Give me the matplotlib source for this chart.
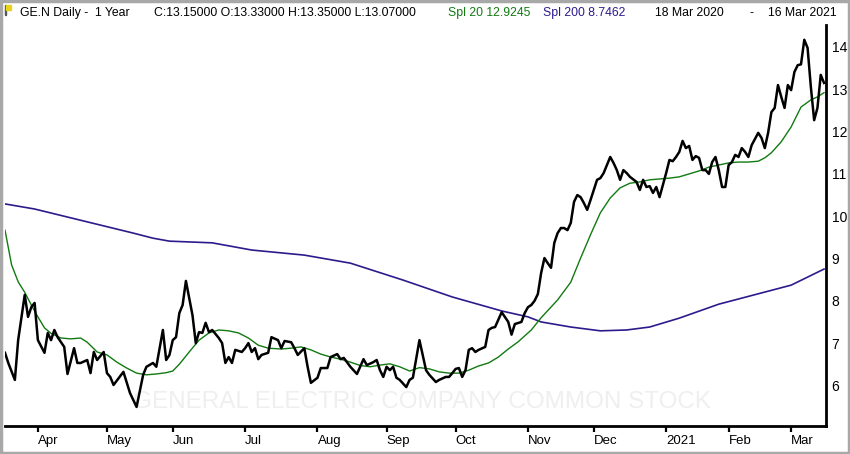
import numpy as np
import pandas as pd
import matplotlib
matplotlib.use('Agg')
import matplotlib.pyplot as plt
from matplotlib.patches import Rectangle

plt.rcParams['font.family'] = ['Liberation Sans', 'DejaVu Sans']

# trading calendar 18 Mar 2020 - 16 Mar 2021
holidays = ['2020-04-10', '2020-05-25', '2020-07-03', '2020-09-07', '2020-11-26',
            '2020-12-25', '2021-01-01', '2021-01-18', '2021-02-15']
month_labels = ['Apr', 'May', 'Jun', 'Jul', 'Aug', 'Sep', 'Oct', 'Nov', 'Dec',
                '2021', 'Feb', 'Mar']

# daily close (session number since 18 Mar 2020, price)
close_session = [0, 1, 3, 4, 6, 7, 8, 9, 10, 12, 13, 14, 15, 16, 18, 19, 21, 22, 23, 25,
                 26, 27, 28, 30, 31, 32, 33, 36, 38, 40, 42, 43, 45, 46, 48, 49, 50, 51, 52, 53,
                 54, 55, 57, 58, 59, 60, 61, 62, 63, 65, 66, 67, 68, 69, 70, 72, 73, 74, 75, 76,
                 77, 78, 80, 81, 83, 84, 85, 87, 88, 89, 91, 92, 93, 95, 96, 98, 99, 101, 102, 103,
                 105, 107, 109, 110, 112, 113, 114, 115, 116, 117, 118, 119, 120, 122, 123, 124,
                 126, 127, 128, 129, 131, 132, 134, 135, 136, 137, 138, 139, 140, 141, 142, 143,
                 144, 146, 147, 148, 149, 151, 153, 154, 155, 157, 158, 159, 160, 161, 162, 163,
                 164, 165, 166, 167, 168, 169, 170, 171, 172, 173, 174, 175, 176, 177, 178, 179,
                 180, 181, 182, 184, 185, 186, 187, 188, 189, 190, 192, 193, 194, 195, 196, 197,
                 198, 199, 201, 202, 203, 204, 205, 206, 207, 208, 209, 210, 211, 212, 213, 214,
                 215, 216, 217, 218, 219, 220, 221, 222, 223, 224, 225, 226, 227, 229, 230, 231,
                 232, 233, 234, 235, 236, 237, 238, 239, 240, 241, 242, 243, 244, 245, 246, 247,
                 248, 249]
close_value = [6.77, 6.53, 6.13, 7.07, 8.14, 7.62, 7.85, 7.95, 7.07, 6.77, 7.24, 7.07, 7.31, 7.14,
               6.91, 6.27, 6.88, 6.53, 6.53, 6.60, 6.29, 6.79, 6.60, 6.79, 6.29, 6.20, 6.01, 6.32,
               5.82, 5.49, 6.25, 6.44, 6.53, 6.44, 7.31, 6.60, 6.72, 7.07, 7.14, 7.71, 7.90, 8.47,
               7.66, 7.00, 7.26, 7.24, 7.48, 7.26, 7.31, 7.12, 7.00, 6.53, 6.67, 6.53, 6.84, 6.79,
               6.88, 7.00, 6.79, 6.88, 6.62, 6.72, 6.77, 7.14, 7.07, 6.88, 7.05, 7.02, 6.88, 6.72,
               6.88, 6.44, 6.06, 6.18, 6.41, 6.41, 6.67, 6.74, 6.62, 6.65, 6.44, 6.27, 6.62, 6.48,
               6.55, 6.60, 6.36, 6.20, 6.44, 6.36, 6.44, 6.18, 6.13, 5.96, 6.13, 6.18, 7.07, 6.72,
               6.36, 6.25, 6.08, 6.13, 6.20, 6.20, 6.29, 6.39, 6.41, 6.20, 6.36, 6.84, 6.88, 6.79,
               6.84, 6.91, 7.31, 7.36, 7.38, 7.73, 7.50, 7.20, 7.45, 7.50, 7.71, 7.85, 7.90, 8.00,
               8.16, 8.66, 9.01, 8.89, 8.78, 9.37, 9.60, 9.72, 9.72, 9.67, 9.84, 10.34, 10.50,
               10.45, 10.31, 10.15, 10.38, 10.62, 10.86, 10.90, 11.02, 11.40, 11.26, 11.09, 10.86,
               11.09, 11.02, 10.93, 10.81, 10.62, 10.86, 10.69, 10.71, 10.55, 10.69, 10.45, 11.02,
               11.33, 11.30, 11.40, 11.52, 11.78, 11.61, 11.66, 11.33, 11.42, 11.38, 11.09, 11.09,
               11.00, 11.28, 11.40, 11.09, 10.69, 10.69, 11.21, 11.28, 11.45, 11.40, 11.61, 11.52,
               11.40, 11.68, 11.97, 11.85, 11.61, 11.97, 12.46, 12.56, 13.10, 12.82, 12.56, 13.10,
               12.98, 13.41, 13.57, 13.59, 14.17, 13.98, 13.05, 12.27, 12.56, 13.34, 13.15]

# Spl 20 (green)
spl20_session = [0, 2, 4, 6, 8, 10, 12, 14, 17, 20, 23, 25, 28, 31, 34, 37, 40, 43, 46, 49, 51,
                 53, 56, 59, 62, 65, 68, 71, 74, 77, 80, 84, 87, 90, 93, 96, 99, 102, 105, 108,
                 111, 114, 117, 120, 123, 126, 129, 132, 135, 138, 141, 144, 147, 150, 153, 156,
                 160, 163, 168, 172, 175, 178, 181, 184, 187, 190, 193, 196, 199, 202, 205, 208,
                 211, 214, 217, 220, 223, 226, 229, 231, 233, 236, 239, 242, 245, 247, 249]
spl20_value = [9.67, 8.85, 8.45, 8.20, 7.90, 7.62, 7.36, 7.23, 7.12, 7.10, 7.12, 7.02, 6.79, 6.72,
               6.55, 6.41, 6.29, 6.25, 6.27, 6.30, 6.34, 6.50, 6.79, 7.07, 7.24, 7.31, 7.29, 7.24,
               7.12, 6.95, 6.88, 6.86, 6.88, 6.91, 6.84, 6.74, 6.67, 6.62, 6.55, 6.47, 6.44, 6.48,
               6.51, 6.44, 6.34, 6.42, 6.39, 6.32, 6.29, 6.29, 6.36, 6.46, 6.53, 6.67, 6.86, 7.03,
               7.31, 7.60, 8.02, 8.44, 9.01, 9.56, 10.08, 10.43, 10.67, 10.78, 10.81, 10.86, 10.88,
               10.90, 10.93, 11.00, 11.07, 11.16, 11.21, 11.26, 11.28, 11.28, 11.30, 11.38, 11.50,
               11.76, 12.11, 12.58, 12.75, 12.82, 12.92]

# Spl 200 (purple)
spl200_session = [0, 9, 19, 29, 39, 45, 50, 63, 75, 91, 105, 121, 136, 151, 159, 163, 172, 181,
                  189, 196, 205, 217, 239, 249]
spl200_value = [10.29, 10.17, 9.98, 9.79, 9.60, 9.48, 9.41, 9.37, 9.20, 9.08, 8.89, 8.49, 8.09,
                7.76, 7.62, 7.50, 7.38, 7.29, 7.31, 7.38, 7.59, 7.92, 8.37, 8.75]

sessions = pd.bdate_range('2020-03-18', '2021-03-16')
sessions = sessions[~sessions.isin(pd.to_datetime(holidays))]
month_key = sessions.year * 100 + sessions.month
first_idx = [int(np.argmax(month_key == k)) for k in pd.unique(month_key)][1:]

fig = plt.figure(figsize=(8.5, 4.54), dpi=100)
ax = fig.add_axes([5 / 850, 28 / 454, 821 / 850, 401 / 454])

ax.plot(spl200_session, spl200_value, color='#2e1a8c', lw=1.2, zorder=3)
ax.plot(spl20_session, spl20_value, color='#117a11', lw=1.0, zorder=4)
ax.plot(close_session, close_value, color='black', lw=1.8, zorder=5)

ax.text(417 / 821, 5.61, 'GENERAL ELECTRIC COMPANY COMMON STOCK',
        transform=ax.get_yaxis_transform(), ha='center', va='center',
        fontsize=17.5, color='#efefef', zorder=1)

ax.set_xlim(0, 249.6)
ax.set_ylim(5.04, 14.52)

ax.yaxis.tick_right()
ax.set_yticks(range(6, 15))
ax.tick_params(axis='y', length=0, pad=4, labelsize=10)
ax.set_xticks(first_idx)
ax.set_xticklabels([])
ax.tick_params(axis='x', length=4.5, width=1.6, direction='out')
for pos, lab in zip(first_idx, month_labels):
    ax.text(pos, -9 / 401, lab, transform=ax.get_xaxis_transform(),
            ha='left', va='top', fontsize=9.5)

for s in ['left', 'top']:
    ax.spines[s].set_visible(False)
for s in ['right', 'bottom']:
    ax.spines[s].set_linewidth(2)

# header
hy = 1 - 13 / 454
parts = [(20, 'GE.N Daily -  1 Year', 'black'),
         (154, 'C:13.15000 O:13.33000 H:13.35000 L:13.07000', 'black'),
         (448, 'Spl 20 12.9245', '#117a11'),
         (543, 'Spl 200 8.7462', '#2e1a8c'), (655, '18 Mar 2020', 'black'),
         (750, '-', 'black'), (768, '16 Mar 2021', 'black')]
for px, txt, col in parts:
    fig.text(px / 850, hy, txt, color=col, fontsize=8.8, ha='left', va='center')

# flag icon
fig.add_artist(Rectangle((5 / 850, 1 - 15 / 454), 1 / 850, 10 / 454, color='#555555',
                         transform=fig.transFigure))
fig.add_artist(Rectangle((6 / 850, 1 - 10 / 454), 5 / 850, 5 / 454, color='#e8d21a',
                         transform=fig.transFigure))

# window frame
fig.add_artist(Rectangle((0.0015, 0.003), 0.997, 0.994, fill=False, edgecolor='#a8a8a8',
                         lw=2.5, transform=fig.transFigure))

fig.savefig('out.png', dpi=100)
